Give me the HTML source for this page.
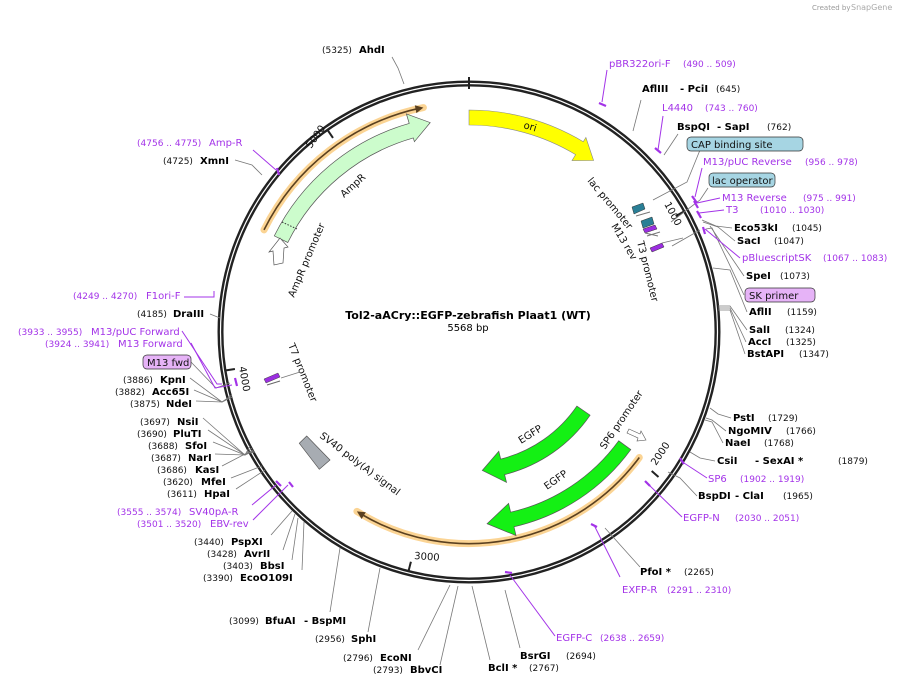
<!DOCTYPE html>
<html><head><meta charset="utf-8"><style>
html,body{margin:0;padding:0;background:#fff;}
svg{display:block;font-family:"DejaVu Sans","Liberation Sans",sans-serif;}
.b{font-weight:bold;font-size:10px;fill:#000;}
.n{font-size:9px;fill:#111;}
.p{font-size:10px;fill:#a333e8;}
.pn{font-size:9px;fill:#a333e8;}
.f{font-size:10px;fill:#111;}
.l{stroke:#777;stroke-width:0.8;fill:none;}
.lp{stroke:#a333e8;stroke-width:1;fill:none;}
.tk{stroke:#a333e8;stroke-width:2.2;fill:none;}
</style></head><body>
<svg width="909" height="686" viewBox="0 0 909 686" xmlns="http://www.w3.org/2000/svg">
<rect width="909" height="686" fill="#fff"/>
<text x="812" y="10" style="font-size:7px;fill:#999">Created by</text>
<text x="851" y="10" style="font-size:8px;fill:#aaa">SnapGene</text>

<circle cx="469" cy="332" r="248.5" fill="none" stroke="#222" stroke-width="6"/>
<circle cx="469" cy="332" r="248.5" fill="none" stroke="#fff" stroke-width="1.2"/>
<g stroke="#222" stroke-width="2">
<line x1="469" y1="77" x2="469" y2="89"/>
<line x1="683.5" y1="211.7" x2="675.7" y2="216.1"/>
<line x1="658.5" y1="477" x2="651.7" y2="471"/>
<line x1="408.7" y1="570.4" x2="410.9" y2="561.7"/>
<line x1="226" y1="370.4" x2="234.9" y2="369"/>
<line x1="327.9" y1="130.5" x2="333" y2="137.9"/>
</g>
<g class="f">
<text transform="translate(664,204) rotate(62)">1000</text>
<text transform="translate(656,466) rotate(-56)">2000</text>
<text transform="translate(414,559) rotate(4)">3000</text>
<text transform="translate(239,367) rotate(80)">4000</text>
<text transform="translate(311,149) rotate(-55)">5000</text>
</g>

<path d="M264,229.9 A229,229 0 0 1 423.4,107.6" fill="none" stroke="#fbd494" stroke-width="7" stroke-linecap="round"/>
<path d="M264,229.9 A229,229 0 0 1 419,108.3" fill="none" stroke="#5a4020" stroke-width="1.6"/>
<polygon points="423.4,107.6 416.4,113.1 414.8,105.3" fill="#5a4020"/>
<path d="M639.3,457.5 A211.5,211.5 0 0 1 356.9,511.4" fill="none" stroke="#fbd494" stroke-width="7" stroke-linecap="round"/>
<path d="M639.3,457.5 A211.5,211.5 0 0 1 361,514" fill="none" stroke="#5a4020" stroke-width="1.6"/>
<polygon points="356.9,511.4 365.8,512.2 361.6,519" fill="#5a4020"/>

<path d="M469,110 A222,222 0 0 1 583.3,141.7 L585.9,137.5 L593.6,160.5 L572,160.6 L575.6,154.6 A207,207 0 0 0 469,125 Z" fill="#ffff00" stroke="#888" stroke-width="0.6"/>
<text class="f" transform="translate(523,128) rotate(16)">ori</text>

<path d="M274.3,235.9 A217,217 0 0 1 409.2,123.4 L406.4,113.9 L430.2,122.6 L414.4,141.7 L413.3,137.9 A202,202 0 0 0 287.8,242.5 Z" fill="#ccfccc" stroke="#555" stroke-width="0.7"/>
<line x1="282" y1="222" x2="297" y2="229" stroke="#333" stroke-dasharray="1.5,1.5"/>
<text class="f" transform="translate(344,198) rotate(-42)">AmpR</text>
<path d="M280,238 L288,247 L284,248 L283,263 L274,265 L273,251 L269,252 Z" fill="#fff" stroke="#555" stroke-width="0.7"/>
<text class="f" transform="translate(294,298) rotate(-67)">AmpR promoter</text>

<path d="M590.1,415.2 A147,147 0 0 1 504.6,474.6 L506.5,482.4 L482.3,470.4 L498.8,451.3 L500.7,459.1 A131,131 0 0 0 576.9,406.1 Z" fill="#14f014" stroke="#555" stroke-width="0.7"/>
<path d="M630.8,449.6 A200,200 0 0 1 514,526.8 L516,535.6 L487.1,523.7 L508.6,503.4 L510.6,512.2 A185,185 0 0 0 618.7,440.8 Z" fill="#14f014" stroke="#555" stroke-width="0.7"/>
<text class="f" transform="translate(521,444) rotate(-32)">EGFP</text>
<text class="f" transform="translate(547,490) rotate(-35)">EGFP</text>
<text class="f" transform="translate(605,450) rotate(-56)">SP6 promoter</text>
<path d="M629,429 L640,434 L641,431 L646,440 L637,441 L638,438 L627,433 Z" fill="#fff" stroke="#555" stroke-width="0.6"/>

<polygon points="299.3,443.3 306.7,436 330,460 319.3,469.3" fill="#a7acb2" stroke="#555" stroke-width="0.7"/>
<text class="f" transform="translate(319,437) rotate(37)">SV40 poly(A) signal</text>

<text class="f" transform="translate(288,345) rotate(68)">T7 promoter</text>
<polygon points="264,379 278,373 280,377 266,383" fill="#9b2ee0" stroke="#444" stroke-width="0.5"/>
<path d="M267,385 L280,381" stroke="#666" fill="none"/>
<line x1="281" y1="378" x2="300" y2="372" class="l"/>

<text class="f" transform="translate(587,181) rotate(50)">lac promoter</text>
<text class="f" transform="translate(611,226) rotate(59)">M13 rev</text>
<text class="f" transform="translate(637,242) rotate(76)">T3 promoter</text>
<polygon points="632,207 643,203 645,209 634,214" fill="#2a7f96" stroke="#333" stroke-width="0.5"/>
<polygon points="641,221 652,217 654,224 643,228" fill="#2a7f96" stroke="#333" stroke-width="0.5"/>
<polygon points="643,229 655,225 657,229 645,233" fill="#9b2ee0" stroke="#333" stroke-width="0.5"/>
<polygon points="650,248 662,243 664,247 652,252" fill="#9b2ee0" stroke="#333" stroke-width="0.5"/>
<path d="M636,216 L650,212 M645,233 L658,236 M647,236 L660,232" stroke="#777" fill="none"/>
<path d="M653,200 L687,182 L700,150 M671,222 L700,200 L708,188 M672,246 L700,230 M662,243 L683,238" class="l"/>

<text x="468" y="319" text-anchor="middle" style="font-size:11px;font-weight:bold">Tol2-aACry::EGFP-zebrafish Plaat1 (WT)</text>
<text x="468" y="331" text-anchor="middle" style="font-size:10px">5568 bp</text>

<path class="l" d="M392,57 L398,68 L404,84"/>
<path class="l" d="M641,100 L633,131"/>
<path class="l" d="M678,134 L664,155"/>
<path class="l" d="M732,228 L716,226 L702,220"/>
<path class="l" d="M735,241 L718,227 L703,222"/>
<path class="l" d="M744,276 L710,226"/>
<path class="l" d="M744,295 L712,228 L706,229"/>
<path class="l" d="M747,312 L730,270 L713,268"/>
<path class="l" d="M747,330 L730,306 L718,306"/>
<path class="l" d="M746,342 L730,308 L718,308"/>
<path class="l" d="M745,354 L730,310 L718,310"/>
<path class="l" d="M731,418 L718,414 L710,408"/>
<path class="l" d="M726,431 L712,420 L706,418"/>
<path class="l" d="M723,443 L712,422 L705,420"/>
<path class="l" d="M715,461 L700,458 L690,452"/>
<path class="l" d="M697,496 L680,478 L668,472"/>
<path class="l" d="M640,567 L605,528"/>
<path class="l" d="M520,648 L505,590"/>
<path class="l" d="M490,660 L472,586"/>
<path class="l" d="M440,665 L458,586"/>
<path class="l" d="M418,650 L450,585"/>
<path class="l" d="M368,632 L380,568"/>
<path class="l" d="M330,612 L340,548"/>
<path class="l" d="M302,570 L304,522"/>
<path class="l" d="M292,560 L298,518"/>
<path class="l" d="M283,550 L295,514"/>
<path class="l" d="M271,535 L292,511"/>
<path class="l" d="M236,489 L265,470"/>
<path class="l" d="M231,478 L262,466"/>
<path class="l" d="M222,466 L245,454 L255,452"/>
<path class="l" d="M215,454 L245,455 L254,451"/>
<path class="l" d="M213,442 L245,455 L253,450"/>
<path class="l" d="M208,430 L245,455 L252,448"/>
<path class="l" d="M203,418 L245,455 L250,446"/>
<path class="l" d="M196,401 L222,402 L232,397"/>
<path class="l" d="M194,390 L222,402 L232,397"/>
<path class="l" d="M190,378 L222,402 L232,395"/>
<path class="l" d="M191,362 L216,388 L230,383"/>
<path class="l" d="M210,314 L220,318"/>
<path class="l" d="M235,160 L252,165 L262,175"/>

<path class="lp" d="M607,70 L602,102"/><path class="tk" d="M599,103 L606,106"/>
<path class="lp" d="M663,116 L658,150"/><path class="tk" d="M655,148 L661,153"/>
<path class="lp" d="M702,168 L695,197"/><path class="tk" d="M692,196 L697,203"/>
<path class="lp" d="M720,198 L697,203"/><path class="tk" d="M694,201 L698,208"/>
<path class="lp" d="M724,210 L699,213"/><path class="tk" d="M697,211 L701,218"/>
<path class="lp" d="M740,258 L705,229"/><path class="tk" d="M703,227 L705,234"/>
<path class="lp" d="M707,478 L684,463"/><path class="tk" d="M680,458 L684,464"/>
<path class="lp" d="M682,517 L648,484"/><path class="tk" d="M645,481 L650,486"/>
<path class="lp" d="M620,577 L594,525"/><path class="tk" d="M591,524 L597,527"/>
<path class="lp" d="M555,636 L510,575"/><path class="tk" d="M505,572 L512,573"/>
<path class="lp" d="M253,520 L288,485"/><path class="tk" d="M289,482 L293,487"/>
<path class="lp" d="M252,505 L276,485"/><path class="tk" d="M276,481 L281,486"/>
<path class="lp" d="M182,331 L217,384 L222,384"/>
<path class="lp" d="M191,343 L215,388 L232,385"/><path class="tk" d="M235,378 L237,386"/>
<path class="lp" d="M184,297 L214,297 L214,291"/>
<path class="lp" d="M253,150 L276,170"/><path class="tk" d="M277,168 L279,175"/>

<text x="322" y="53" class="n">(5325)</text><text x="359" y="53" class="b">AhdI</text>
<text x="609" y="67" class="p">pBR322ori-F</text><text x="683" y="67" class="pn">(490 .. 509)</text>
<text x="642" y="92" class="b">AflIII</text><text x="680" y="92" class="b">- PciI</text><text x="716" y="92" class="n">(645)</text>
<text x="662" y="111" class="p">L4440</text><text x="705" y="111" class="pn">(743 .. 760)</text>
<text x="677" y="130" class="b">BspQI</text><text x="717" y="130" class="b">- SapI</text><text x="767" y="130" class="n">(762)</text>
<rect x="687" y="137" width="116" height="14" rx="4" fill="#a6d5e3" stroke="#333" stroke-width="0.7"/>
<text x="691" y="148" class="f">CAP binding site</text>
<text x="703" y="165" class="p">M13/pUC Reverse</text><text x="805" y="165" class="pn">(956 .. 978)</text>
<rect x="709" y="173" width="66" height="14" rx="4" fill="#a6d5e3" stroke="#333" stroke-width="0.7"/>
<text x="712" y="184" class="f">lac operator</text>
<text x="722" y="201" class="p">M13 Reverse</text><text x="803" y="201" class="pn">(975 .. 991)</text>
<text x="726" y="213" class="p">T3</text><text x="760" y="213" class="pn">(1010 .. 1030)</text>
<text x="734" y="231" class="b">Eco53kI</text><text x="792" y="231" class="n">(1045)</text>
<text x="737" y="244" class="b">SacI</text><text x="774" y="244" class="n">(1047)</text>
<text x="742" y="261" class="p">pBluescriptSK</text><text x="823" y="261" class="pn">(1067 .. 1083)</text>
<text x="746" y="279" class="b">SpeI</text><text x="780" y="279" class="n">(1073)</text>
<rect x="745" y="288" width="70" height="14" rx="4" fill="#e6b3f7" stroke="#333" stroke-width="0.7"/>
<text x="749" y="299" class="f">SK primer</text>
<text x="749" y="315" class="b">AflII</text><text x="787" y="315" class="n">(1159)</text>
<text x="749" y="333" class="b">SalI</text><text x="785" y="333" class="n">(1324)</text>
<text x="748" y="345" class="b">AccI</text><text x="786" y="345" class="n">(1325)</text>
<text x="747" y="357" class="b">BstAPI</text><text x="799" y="357" class="n">(1347)</text>
<text x="733" y="421" class="b">PstI</text><text x="768" y="421" class="n">(1729)</text>
<text x="728" y="434" class="b">NgoMIV</text><text x="786" y="434" class="n">(1766)</text>
<text x="725" y="446" class="b">NaeI</text><text x="764" y="446" class="n">(1768)</text>
<text x="717" y="464" class="b">CsiI</text><text x="755" y="464" class="b">- SexAI *</text><text x="838" y="464" class="n">(1879)</text>
<text x="708" y="482" class="p">SP6</text><text x="740" y="482" class="pn">(1902 .. 1919)</text>
<text x="698" y="499" class="b">BspDI</text><text x="735" y="499" class="b">- ClaI</text><text x="783" y="499" class="n">(1965)</text>
<text x="683" y="521" class="p">EGFP-N</text><text x="735" y="521" class="pn">(2030 .. 2051)</text>
<text x="640" y="575" class="b">PfoI *</text><text x="684" y="575" class="n">(2265)</text>
<text x="622" y="593" class="p">EXFP-R</text><text x="667" y="593" class="pn">(2291 .. 2310)</text>
<text x="556" y="641" class="p">EGFP-C</text><text x="600" y="641" class="pn">(2638 .. 2659)</text>
<text x="520" y="659" class="b">BsrGI</text><text x="566" y="659" class="n">(2694)</text>
<text x="488" y="671" class="b">BclI *</text><text x="529" y="671" class="n">(2767)</text>

<text x="343" y="661" class="n">(2796)</text><text x="380" y="661" class="b">EcoNI</text>
<text x="373" y="673" class="n">(2793)</text><text x="410" y="673" class="b">BbvCI</text>
<text x="315" y="642" class="n">(2956)</text><text x="351" y="642" class="b">SphI</text>
<text x="229" y="624" class="n">(3099)</text><text x="265" y="624" class="b">BfuAI</text><text x="304" y="624" class="b">- BspMI</text>
<text x="203" y="581" class="n">(3390)</text><text x="240" y="581" class="b">EcoO109I</text>
<text x="223" y="569" class="n">(3403)</text><text x="260" y="569" class="b">BbsI</text>
<text x="207" y="557" class="n">(3428)</text><text x="244" y="557" class="b">AvrII</text>
<text x="194" y="545" class="n">(3440)</text><text x="231" y="545" class="b">PspXI</text>
<text x="137" y="527" class="pn">(3501 .. 3520)</text><text x="210" y="527" class="p">EBV-rev</text>
<text x="117" y="515" class="pn">(3555 .. 3574)</text><text x="189" y="515" class="p">SV40pA-R</text>
<text x="167" y="497" class="n">(3611)</text><text x="204" y="497" class="b">HpaI</text>
<text x="163" y="485" class="n">(3620)</text><text x="201" y="485" class="b">MfeI</text>
<text x="157" y="473" class="n">(3686)</text><text x="195" y="473" class="b">KasI</text>
<text x="151" y="461" class="n">(3687)</text><text x="188" y="461" class="b">NarI</text>
<text x="148" y="449" class="n">(3688)</text><text x="185" y="449" class="b">SfoI</text>
<text x="137" y="437" class="n">(3690)</text><text x="173" y="437" class="b">PluTI</text>
<text x="140" y="425" class="n">(3697)</text><text x="177" y="425" class="b">NsiI</text>
<text x="130" y="407" class="n">(3875)</text><text x="166" y="407" class="b">NdeI</text>
<text x="115" y="395" class="n">(3882)</text><text x="152" y="395" class="b">Acc65I</text>
<text x="123" y="383" class="n">(3886)</text><text x="160" y="383" class="b">KpnI</text>
<rect x="143" y="355" width="48" height="14" rx="4" fill="#e6b3f7" stroke="#333" stroke-width="0.7"/>
<text x="147" y="366" class="f">M13 fwd</text>
<text x="45" y="347" class="pn">(3924 .. 3941)</text><text x="118" y="347" class="p">M13 Forward</text>
<text x="18" y="335" class="pn">(3933 .. 3955)</text><text x="91" y="335" class="p">M13/pUC Forward</text>
<text x="137" y="317" class="n">(4185)</text><text x="173" y="317" class="b">DraIII</text>
<text x="73" y="299" class="pn">(4249 .. 4270)</text><text x="146" y="299" class="p">F1ori-F</text>
<text x="163" y="164" class="n">(4725)</text><text x="200" y="164" class="b">XmnI</text>
<text x="137" y="146" class="pn">(4756 .. 4775)</text><text x="209" y="146" class="p">Amp-R</text>
</svg>
</body></html>
